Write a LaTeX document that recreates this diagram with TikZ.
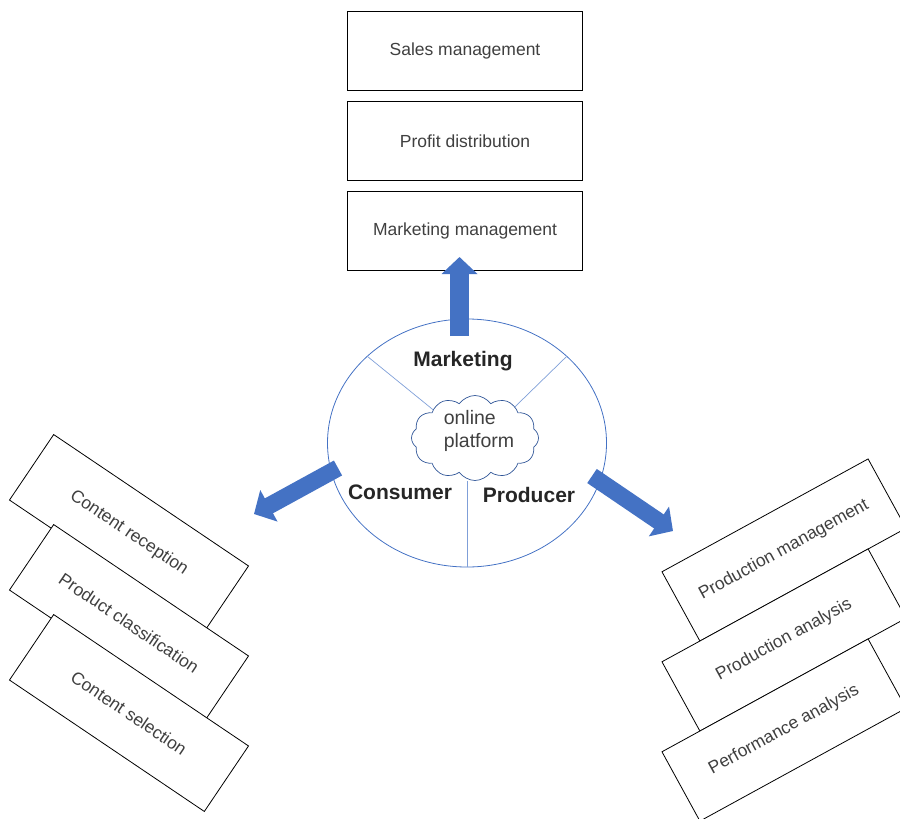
\documentclass[tikz,border=0pt]{standalone}
\usepackage{fontspec}
\setmainfont{Liberation Sans}
\usetikzlibrary{arrows.meta,shapes.geometric,shapes.symbols}
\definecolor{hubblue}{HTML}{4472C4}
\definecolor{splitblue}{HTML}{7F9FD8}
\definecolor{cloudblue}{HTML}{2F5597}
\definecolor{txtgray}{HTML}{404040}
\definecolor{lblgray}{HTML}{262626}
\begin{document}
\begin{tikzpicture}[x=1pt,y=-1pt,
    taskbox/.style={draw, fill=white, line width=0.8pt, minimum width=235pt, minimum height=79pt, inner sep=0pt, text=txtgray, font=\fontsize{17.5}{20}\selectfont},
    bigarrow/.style={draw=hubblue, line width=#1, -{Triangle[length=17pt,width=35pt]}},
    rolelabel/.style={text=lblgray, font=\bfseries\fontsize{21}{24}\selectfont}]
        \useasboundingbox (0,0) rectangle (900,819);
        \clip (0,0) rectangle (900,819);
        % marketing side
        \node[taskbox] (sales) at (465,51) {Sales management};
        \node[taskbox] (profit) at (465,141) {Profit distribution};
        \node[taskbox] (mktmgmt) at (465,231) {Marketing management};
        % hub with cloud
        \node[ellipse, draw=hubblue, line width=0.8pt, minimum width=279pt, minimum height=248pt, inner sep=0pt] (hub) at (467,443) {};
        \node[cloud, draw=cloudblue, line width=0.7pt, cloud puffs=12, cloud puff arc=110, aspect=1.5, minimum width=127pt, minimum height=85pt, inner sep=0pt] (cloud) at (475,438) {};
        \draw[splitblue, line width=0.7pt] (hub.139) -- (cloud.146);
        \draw[splitblue, line width=0.7pt] (hub.41) -- (cloud.38);
        \draw[splitblue, line width=0.7pt] (hub.south) -- (hub.south |- cloud.south);
        \node[text=txtgray, align=left, font=\fontsize{19.5}{23}\selectfont] (platform) at (479,431) {online\\platform};
        \node[rolelabel] (marketing) at (463,361) {Marketing};
        \node[rolelabel] (consumer) at (400,492) {Consumer};
        \node[rolelabel] (producer) at (529,495) {Producer};
        % arrows
        \coordinate (upfrom) at (459.5,336);
        \coordinate (upto) at (459.5,257);
        \coordinate (leftfrom) at (338,468);
        \coordinate (leftto) at (254,514);
        \coordinate (rightfrom) at (592,476);
        \coordinate (rightto) at (673,531);
        \draw[bigarrow=19pt] (upfrom) -- (upto);
        \draw[bigarrow=17pt] (leftfrom) -- (leftto);
        \draw[bigarrow=17pt] (rightfrom) -- (rightto);
        % consumer side
        \node[taskbox, rotate=-34] (receive) at (129,533) {Content reception};
        \node[taskbox, rotate=-34] (classify) at (129,623) {Product classification};
        \node[taskbox, rotate=-34] (select) at (129,713) {Content selection};
        % producer side
        \node[taskbox, rotate=28.7] (prodmgmt) at (784,550) {Production management};
        \node[taskbox, rotate=28.7] (prodana) at (784,640) {Production analysis};
        \node[taskbox, rotate=28.7] (perfana) at (784,730) {Performance analysis};
\end{tikzpicture}
\end{document}
